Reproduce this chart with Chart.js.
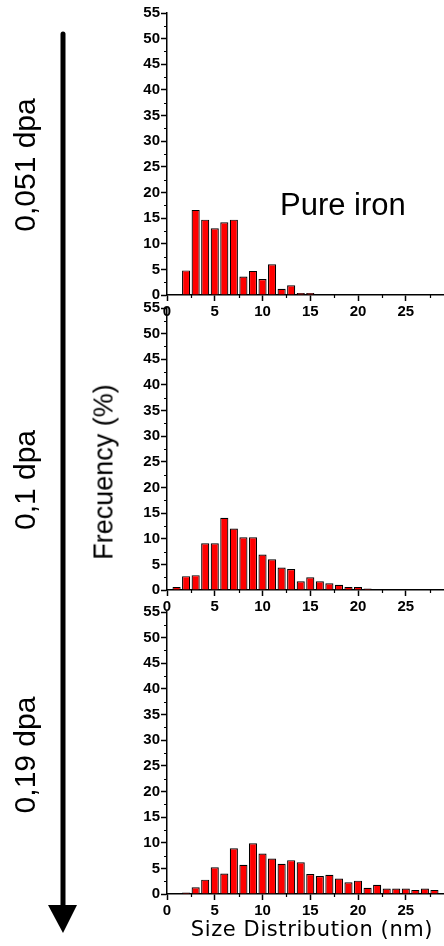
<!DOCTYPE html>
<html>
<head>
<meta charset="utf-8">
<script src="https://cdn.jsdelivr.net/npm/chart.js@4/dist/chart.umd.min.js"></script>
<style>
  html, body { margin: 0; padding: 0; background: #fff; }
  #wrap { position: relative; width: 444px; height: 946px; overflow: hidden; }
  canvas { position: absolute; left: 0; }
  .lbl { position: absolute; white-space: nowrap; color: #000; line-height: 1; }
  .rot { transform: translate(-50%, -50%) rotate(-90deg); font-family: "Liberation Sans", Arial, sans-serif; }
</style>
</head>
<body>
<div id="wrap">
  <svg width="444" height="946" style="position:absolute;left:0;top:0">
    <line x1="63" y1="34" x2="63" y2="908" stroke="#000" stroke-width="5" stroke-linecap="round"/>
    <polygon points="48,905 77,905 63,933" fill="#000"/>
  </svg>
  <canvas id="chartPure" width="444" height="325" style="top:0px"></canvas>
  <canvas id="chart01" width="444" height="322" style="top:298px"></canvas>
  <canvas id="chart019" width="444" height="322" style="top:602px"></canvas>

  <div class="lbl rot" style="left:25px;top:165px;font-size:30px">0,051 dpa</div>
  <div class="lbl rot" style="left:25px;top:480px;font-size:30px">0,1 dpa</div>
  <div class="lbl rot" style="left:25px;top:755px;font-size:30px">0,19 dpa</div>
  <div class="lbl rot" style="left:104px;top:472px;font-size:27px">Frecuency (%)</div>
  <div class="lbl" style="left:280px;top:189px;font-size:31px;font-family:'Liberation Sans',Arial,sans-serif">Pure iron</div>
  <div class="lbl" style="left:312px;top:919px;font-size:21px;letter-spacing:0.6px;transform:translateX(-50%);font-family:'DejaVu Sans',sans-serif">Size Distribution (nm)</div>
</div>

<script>
// size classes (nm) and frequency (%) for each dose
var pureSizes = [2, 3, 4, 5, 6, 7, 8, 9, 10, 11, 12, 13, 14, 15];
var pureFreq = [4.8, 16.6, 14.7, 13.0, 14.2, 14.7, 3.6, 4.7, 3.1, 6.0, 1.2, 1.9, 0.4, 0.4];

var dpa01Sizes = [1, 2, 3, 4, 5, 6, 7, 8, 9, 10, 11, 12, 13, 14, 15, 16, 17, 18, 19, 20, 21];
var dpa01Freq = [0.6, 2.7, 2.9, 9.1, 9.1, 14.1, 12.0, 10.3, 10.3, 6.9, 6.0, 4.4, 4.1, 1.7, 2.5, 1.7, 1.3, 1.0, 0.6, 0.6, 0.3];

var dpa019Sizes = [2, 3, 4, 5, 6, 7, 8, 9, 10, 11, 12, 13, 14, 15, 16, 17, 18, 19, 20, 21, 22, 23, 24, 25, 26, 27, 28];
var dpa019Freq = [0.3, 1.3, 2.8, 5.2, 4.0, 8.9, 5.7, 9.9, 7.9, 6.9, 5.9, 6.6, 6.2, 3.9, 3.5, 3.75, 3.0, 2.3, 2.6, 1.2, 1.8, 1.05, 1.05, 1.05, 0.8, 1.05, 0.8];

var xMin = 0, xMax = 29, xStep = 5;
var yMin = 0, yMax = 55, yStep = 5;

// small ticks between the labelled ones
var minorTicks = {
    id: "minorTicks",
    afterDraw: function (chart) {
        var ctx = chart.ctx;
        var x = chart.scales.x, y = chart.scales.y;
        ctx.save();
        ctx.strokeStyle = "#000";
        ctx.lineWidth = 1.2;
        ctx.beginPath();
        for (var v = xStep / 2; v < x.max; v += xStep) {
            var px = Math.round(x.getPixelForValue(v)) + 0.5;
            ctx.moveTo(px, x.top);
            ctx.lineTo(px, x.top + 3);
        }
        for (var w = yStep / 2; w < y.max; w += yStep) {
            var py = Math.round(y.getPixelForValue(w)) + 0.5;
            ctx.moveTo(y.right, py);
            ctx.lineTo(y.right - 3, py);
        }
        ctx.stroke();
        ctx.restore();
    },
};

var tickFont = { family: "Liberation Sans, Arial, sans-serif", size: 15, weight: "bold" };

function makeChart(id, sizes, freq, padTop) {
    var points = sizes.map(function (s, i) {
        return { x: s, y: freq[i] };
    });
    return new Chart(document.getElementById(id).getContext("2d"), {
        type: "bar",
        data: {
            datasets: [
                {
                    data: points,
                    backgroundColor: "#ff0000",
                    borderColor: "#000",
                    borderWidth: 1.2,
                    barPercentage: 0.85,
                    categoryPercentage: 1,
                },
            ],
        },
        options: {
            responsive: false,
            animation: false,
            devicePixelRatio: 1,
            layout: { padding: { top: padTop, left: 0, right: 0, bottom: 0 } },
            plugins: { legend: { display: false }, tooltip: { enabled: false } },
            scales: {
                x: {
                    type: "linear",
                    min: xMin,
                    max: xMax,
                    offset: false,
                    grid: { display: true, drawOnChartArea: false, drawTicks: true, tickLength: 6, tickColor: "#000", tickWidth: 1.5, offset: false },
                    border: { color: "#000", width: 1.5 },
                    ticks: { stepSize: xStep, includeBounds: false, autoSkip: false, maxRotation: 0, color: "#000", font: tickFont, padding: 2 },
                    afterFit: function (scale) {
                        scale.height = 30;
                    },
                },
                y: {
                    min: yMin,
                    max: yMax,
                    grid: { display: true, drawOnChartArea: false, drawTicks: true, tickLength: 6, tickColor: "#000", tickWidth: 1.5 },
                    border: { color: "#000", width: 1.5 },
                    ticks: { stepSize: yStep, autoSkip: false, color: "#000", font: tickFont, padding: 1 },
                    afterFit: function (scale) {
                        scale.width = 167;
                    },
                },
            },
        },
        plugins: [minorTicks],
    });
}

makeChart("chartPure", pureSizes, pureFreq, 13);
makeChart("chart01", dpa01Sizes, dpa01Freq, 10);
makeChart("chart019", dpa019Sizes, dpa019Freq, 10);
</script>
</body>
</html>
